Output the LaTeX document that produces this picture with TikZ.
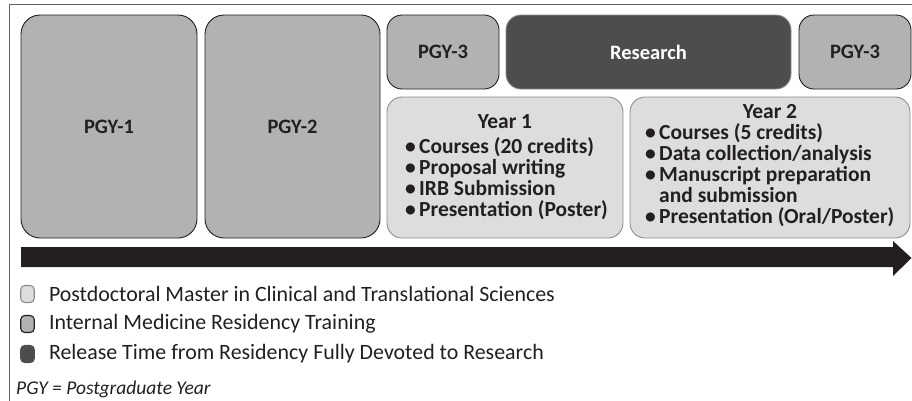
\documentclass[tikz,border=0pt]{standalone}
\usepackage{fontspec}
\setmainfont{Carlito}
\usetikzlibrary{positioning}

\definecolor{lightbox}{HTML}{DCDDDF}
\definecolor{midbox}{HTML}{B1B2B4}
\definecolor{darkbox}{HTML}{4D4D4F}
\definecolor{inkline}{HTML}{231F20}
\definecolor{softline}{HTML}{8C8D8F}
\definecolor{framegray}{HTML}{5F6062}

\newcommand{\itm}{\makebox[14pt][l]{•}}

\tikzset{
  every node/.style={inner sep=0pt},
  boxfont/.style={font=\bfseries\fontsize{21.5}{21}\selectfont},
  labelfont/.style={font=\bfseries\fontsize{20.5}{21}\selectfont},
  residency/.style={draw=inkline, fill=midbox, line width=0.9pt, text=inkline, labelfont},
  research/.style={draw=softline, fill=darkbox, line width=0.9pt, text=white, labelfont},
  master/.style={draw=softline, fill=lightbox, line width=0.9pt, rounded corners=15pt},
  legendkey/.style={minimum width=13.5pt, minimum height=17pt, rounded corners=4pt, line width=1.1pt},
  legendtext/.style={anchor=west, font=\fontsize{21.9}{21}\selectfont, text=inkline}
}

\begin{document}
\begin{tikzpicture}[x=1pt,y=-1pt]
  \useasboundingbox (0,0) rectangle (912,400);
  % frame (right and bottom edges fall outside the picture)
  \begin{scope}
    \clip (0,0) rectangle (912,400);
    \draw[framegray, line width=1.3pt] (9.5,4.5) rectangle (930,420);
  \end{scope}

  % residency years
  \node[residency, rounded corners=19pt, minimum width=176pt, minimum height=223pt] (pgy1) at (109,126.5) {PGY-1};
  \node[residency, rounded corners=19pt, minimum width=175pt, minimum height=223pt] (pgy2) at (292.5,126.5) {PGY-2};
  \node[residency, rounded corners=15pt, minimum width=112pt, minimum height=74pt] (pgy3a) at (443,52) {PGY-3};
  \node[research, rounded corners=15pt, minimum width=285pt, minimum height=74pt] (resrch) at (648.5,52) {Research};
  \node[residency, rounded corners=15pt, minimum width=112pt, minimum height=74pt] (pgy3b) at (855,52) {PGY-3};

  % master program
  \node[master, minimum width=236pt, minimum height=141pt] (yr1) at (505,167.5) {};
  \node[master, minimum width=280pt, minimum height=141pt] (yr2) at (770,167.5) {};

  \node[boxfont, text=inkline] (yr1head) at (505,122) {Year 1};
  \node[boxfont, text=inkline, align=left, anchor=north west] (yr1list) at (405,137.5)
    {\itm Courses (20 credits)\\ \itm Proposal writing\\ \itm IRB Submission\\ \itm Presentation (Poster)};

  \node[boxfont, text=inkline] (yr2head) at (770,112) {Year 2};
  \node[boxfont, text=inkline, align=left, anchor=north west] (yr2list) at (645,123.5)
    {\itm Courses (5 credits)\\ \itm Data collection/analysis\\ \itm Manuscript preparation\\ \hphantom{\itm}and submission\\ \itm Presentation (Oral/Poster)};

  % time line
  \fill[inkline] (21,247) -- (893,247) -- (893,241) -- (911.5,258) -- (893,276) -- (893,267) -- (21,267) -- cycle;

  % legend
  \node[legendkey, draw=softline, fill=lightbox] (keymaster) at (27.5,294) {};
  \node[legendtext, right=14pt of keymaster] (txtmaster) {Postdoctoral Master in Clinical and Translational Sciences};
  \node[legendkey, draw=inkline, fill=midbox] (keyres) at (27.5,324) {};
  \node[legendtext, right=14pt of keyres] (txtres) {Internal Medicine Residency Training};
  \node[legendkey, draw=darkbox, fill=darkbox] (keyrel) at (27.5,354) {};
  \node[legendtext, right=14pt of keyrel] (txtrel) {Release Time from Residency Fully Devoted to Research};

  \node[anchor=west, font=\itshape\fontsize{19.5}{19}\selectfont, text=inkline] (pgynote) at (16,389) {PGY = Postgraduate Year};
\end{tikzpicture}
\end{document}
